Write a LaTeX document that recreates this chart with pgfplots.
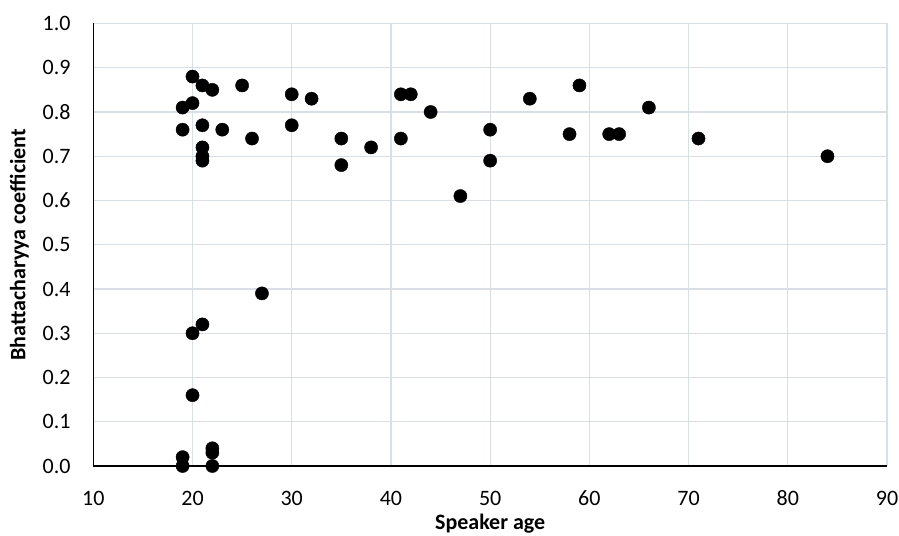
\documentclass[border=0pt]{standalone}
\usepackage{fontspec}
\setmainfont{Carlito}
\usepackage{pgfplots}
\pgfplotsset{compat=1.18}
\definecolor{gridc}{RGB}{218,223,231}

\begin{document}
\begin{tikzpicture}[x=1bp,y=1bp]
\useasboundingbox (-93.3,-70) rectangle (805.7,466);
\begin{axis}[
  at={(0,0)}, anchor=south west,
  scale only axis, width=793.7bp, height=442.5bp,
  xmin=10, xmax=90, ymin=0, ymax=1,
  xtick={10,20,30,40,50,60,70,80,90},
  ytick={0,0.1,0.2,0.3,0.4,0.5,0.6,0.7,0.8,0.9,1.0},
  axis x line=bottom, axis y line=left,
  axis line style={-, black, line width=1.1bp},
  grid=major, major grid style={gridc, line width=1.2bp},
  major tick length=0pt,
  /pgf/number format/assume math mode=true,
  ticklabel style={font=\fontsize{22bp}{26bp}\selectfont, inner sep=0pt},
  xticklabel style={anchor=base, yshift=-39.7bp},
  yticklabel style={anchor=east, xshift=-22.5bp,
    /pgf/number format/.cd, fixed, fixed zerofill, precision=1},
  every axis x label/.style={at={(axis description cs:0.5,0)}, yshift=-63.5bp,
    anchor=base, inner sep=0pt, font=\fontsize{22bp}{26bp}\selectfont\bfseries},
  every axis y label/.style={at={(axis description cs:0,0.5)}, xshift=-68bp,
    rotate=90, anchor=base, inner sep=0pt, font=\fontsize{22bp}{26bp}\selectfont\bfseries},
  xlabel={Speaker age},
  ylabel={Bhattacharyya coefficient},
  clip=false,
]
\addplot[only marks, mark=*, mark size=6.6bp, draw=black, fill=black] coordinates {
  (19,0.81) (19,0.76) (19,0.02) (19,0.00)
  (20,0.88) (20,0.82) (20,0.30) (20,0.16)
  (21,0.86) (21,0.77) (21,0.72) (21,0.70) (21,0.69) (21,0.32)
  (22,0.85) (22,0.04) (22,0.03) (22,0.00)
  (23,0.76) (25,0.86) (26,0.74) (27,0.39)
  (30,0.84) (30,0.77) (32,0.83)
  (35,0.74) (35,0.68) (38,0.72)
  (41,0.84) (41,0.74) (42,0.84) (44,0.80)
  (47,0.61) (50,0.76) (50,0.69)
  (54,0.83) (58,0.75) (59,0.86)
  (62,0.75) (63,0.75) (66,0.81)
  (71,0.74) (84,0.70)
};
\end{axis}
\end{tikzpicture}
\end{document}
